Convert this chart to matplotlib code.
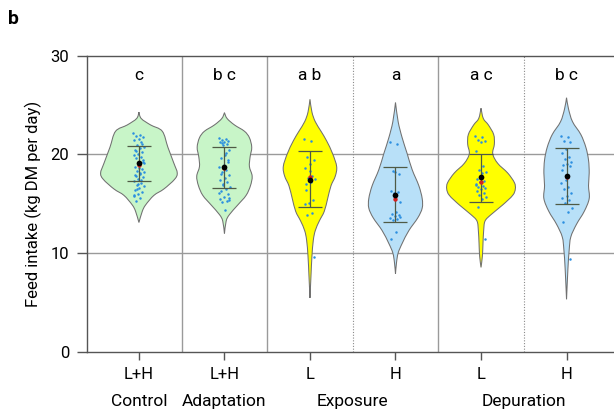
import matplotlib
matplotlib.use("Agg")
import matplotlib.pyplot as plt
from matplotlib.path import Path
from matplotlib.patches import PathPatch
import numpy as np

plt.rcParams['font.family'] = ['Roboto', 'DejaVu Sans']

# ---- data ----
tick_labels = ["L+H", "L+H", "L", "H", "L", "H"]
group_labels = ["Control", "Adaptation", "Exposure", "Depuration"]
group_label_pos = [0, 1, 2.5, 4.5]
letters = ["c", "b c", "a b", "a", "a c", "b c"]
fill_colors = ["#c8f5c8", "#c8f5c8", "#ffff00", "#b8e0f8", "#ffff00", "#b8e0f8"]

# violin density profiles (y level, half width)
prof_y = [
    [24.28, 23.63, 22.98, 22.34, 20.71, 19.09, 18.11, 17.47, 16.49, 15.84, 14.87, 14.22, 13.09],
    [24.22, 23.63, 22.98, 22.34, 21.68, 20.71, 19.74, 18.76, 17.79, 16.82, 15.84, 14.87, 13.89, 13.24, 11.95],
    [25.58, 24.28, 23.31, 22.34, 21.36, 20.06, 18.76, 17.79, 16.82, 15.52, 14.22, 13.24, 12.27, 11.29, 9.68, 7.73, 5.45],
    [25.26, 23.31, 21.68, 20.06, 18.44, 16.82, 15.52, 14.55, 13.57, 12.27, 10.97, 10.0, 9.03, 7.89],
    [24.67, 23.63, 22.98, 22.01, 21.03, 20.06, 19.09, 18.11, 17.14, 16.49, 15.84, 14.87, 13.89, 13.24, 12.27, 10.97, 9.68, 8.54],
    [25.74, 24.61, 23.31, 22.01, 20.71, 19.42, 18.11, 16.82, 15.52, 14.22, 12.92, 11.63, 10.32, 8.37, 5.30],
]
prof_w = [
    [0.0, 0.027, 0.136, 0.273, 0.339, 0.409, 0.448, 0.417, 0.292, 0.175, 0.078, 0.039, 0.0],
    [0.0, 0.031, 0.117, 0.234, 0.292, 0.319, 0.300, 0.292, 0.324, 0.304, 0.253, 0.156, 0.058, 0.020, 0.0],
    [0.0, 0.023, 0.062, 0.129, 0.195, 0.265, 0.312, 0.296, 0.246, 0.207, 0.167, 0.109, 0.062, 0.039, 0.023, 0.012, 0.0],
    [0.0, 0.031, 0.078, 0.137, 0.195, 0.273, 0.312, 0.312, 0.261, 0.156, 0.078, 0.031, 0.012, 0.0],
    [0.0, 0.027, 0.086, 0.148, 0.156, 0.137, 0.195, 0.312, 0.390, 0.401, 0.370, 0.253, 0.117, 0.047, 0.031, 0.023, 0.016, 0.0],
    [0.0, 0.023, 0.070, 0.167, 0.226, 0.257, 0.265, 0.257, 0.265, 0.207, 0.117, 0.050, 0.031, 0.016, 0.0],
]

# individual observations
pts_control = [22.2, 22.0, 21.9, 21.8, 21.6, 21.5, 21.2, 20.9, 20.7, 20.6, 20.4, 20.2, 20.0, 19.9,
               19.7, 19.6, 19.4, 18.9, 18.7, 18.5, 18.3, 18.2, 18.0, 17.8, 17.7, 17.5, 17.3, 17.1,
               16.9, 16.8, 16.6, 16.4, 16.2, 16.0, 15.8, 15.6, 15.3, 19.2, 18.6, 17.9, 17.4, 16.5,
               19.1, 18.1, 20.3, 21.0, 17.0, 15.9]
pts_adapt = [21.7, 21.6, 21.5, 21.4, 21.3, 21.2, 21.0, 20.9, 20.4, 19.9, 19.6, 19.2, 18.9, 18.7,
             18.4, 18.2, 17.9, 17.6, 17.4, 17.2, 16.9, 16.7, 16.5, 16.3, 16.0, 15.7, 15.5, 15.3,
             15.2, 15.6, 14.4, 18.0, 19.4, 17.0, 16.1, 20.1, 21.1, 15.4]
pts_exp_l = [21.6, 21.4, 19.7, 19.4, 19.0, 18.6, 17.8, 17.6, 17.5, 17.2, 17.0, 15.4, 15.1, 15.0,
             14.1, 13.9, 9.6, 18.3, 16.4]
pts_exp_h = [21.2, 21.0, 18.3, 18.0, 18.2, 16.3, 16.2, 16.1, 15.2, 14.2, 14.0, 13.9, 13.7, 13.5,
             13.4, 13.3, 13.6, 12.1, 11.4]
pts_dep_l = [21.9, 21.8, 21.5, 21.4, 21.3, 20.3, 18.8, 18.4, 18.2, 18.1, 17.5, 17.3, 17.2, 17.0,
             16.8, 16.7, 16.6, 16.5, 16.3, 16.1, 15.9, 15.7, 15.5, 14.7, 11.4, 17.6, 16.9]
pts_dep_h = [21.9, 21.8, 21.4, 21.2, 20.5, 20.1, 19.7, 19.5, 19.2, 19.0, 18.9, 18.8, 17.8, 17.1,
             16.7, 16.5, 16.1, 15.8, 15.6, 15.4, 15.1, 14.6, 14.2, 13.1, 9.4, 17.4, 18.4]
points = [pts_control, pts_adapt, pts_exp_l, pts_exp_h, pts_dep_l, pts_dep_h]

means = [19.08, 18.67, 17.40, 15.91, 17.69, 17.79]
medians = [18.90, 18.60, 17.72, 15.48, 17.23, 17.70]
sd_low = [17.30, 16.55, 14.64, 13.12, 15.19, 14.94]
sd_high = [20.88, 20.71, 20.29, 18.70, 20.06, 20.64]


def smooth_side(xs, ys):
    """Bezier (Catmull-Rom) path pieces through the outline vertices."""
    P = np.column_stack([xs, ys])
    n = len(P)
    verts, codes = [], []
    for k in range(n - 1):
        p0 = P[k - 1] if k > 0 else P[k]
        p1, p2 = P[k], P[k + 1]
        p3 = P[k + 2] if k + 2 < n else P[k + 1]
        c1 = p1 + (p2 - p0) / 6.0
        c2 = p2 - (p3 - p1) / 6.0
        verts += [c1, c2, p2]
        codes += [Path.CURVE4] * 3
    return verts, codes


# ---- figure ----
fig = plt.figure(figsize=(6.14, 4.13), dpi=100)
ax = fig.add_axes([0.142, 0.1485, 0.858, 0.7167])
ax.set_xlim(-0.605, 5.555)
ax.set_ylim(0, 30)

for yv in [10, 20]:
    ax.axhline(yv, color="#9a9a9a", lw=1.0, zorder=0)
for xv in [0.5, 1.5, 3.5]:
    ax.axvline(xv, color="#9a9a9a", lw=1.0, zorder=0)
for xv in [2.5, 4.5]:
    ax.axvline(xv, color="#8a8a8a", lw=0.8, ls=(0, (1, 1.5)), zorder=0)

for i in range(6):
    yy = np.array(prof_y[i])
    ww = np.array(prof_w[i])
    v1, c1 = smooth_side(i + ww, yy)
    v2, c2 = smooth_side((i - ww)[::-1], yy[::-1])
    verts = [(i + ww[0], yy[0])] + v1 + v2 + [(i, yy[0])]
    codes = [Path.MOVETO] + c1 + c2 + [Path.CLOSEPOLY]
    patch = PathPatch(Path(verts, codes), facecolor=fill_colors[i],
                      edgecolor="#707070", lw=0.75, zorder=2)
    ax.add_patch(patch)
    pts = np.array(points[i])
    k = np.arange(len(pts))
    jit = 0.065 * (((k * 0.618034) % 1.0) * 2 - 1)
    ax.scatter(i + jit, pts, s=3.2, color="#2b8fe0", lw=0, zorder=3)
    ax.errorbar([i], [means[i]], yerr=[[means[i] - sd_low[i]], [sd_high[i] - means[i]]],
                fmt="none", ecolor="#4f5a45", elinewidth=0.9, capsize=8.5, capthick=0.9, zorder=4)
    ax.scatter([i], [medians[i]], s=10, color="#d42020", zorder=5, lw=0)
    ax.scatter([i], [means[i]], s=17, color="black", zorder=6, lw=0)
    ax.text(i, 28.0, letters[i], ha="center", va="center", fontsize=12.5)

ax.set_yticks([0, 10, 20, 30])
ax.set_xticks(range(6))
ax.set_xticklabels(tick_labels)
ax.tick_params(axis="both", labelsize=12, color="#555555", length=6, width=1)
ax.tick_params(axis="y", length=7, pad=6)
ax.tick_params(axis="x", pad=5)
ax.set_ylabel("Feed intake (kg DM per day)", fontsize=12, labelpad=6)

for s in ["left", "bottom", "top"]:
    ax.spines[s].set_color("#555555")
    ax.spines[s].set_linewidth(1.0)
ax.spines["right"].set_visible(False)

for lab, pos in zip(group_labels, group_label_pos):
    ax.text(pos, -5.1, lab, ha="center", va="center", fontsize=12.5)

fig.text(0.013, 0.955, "b", fontsize=14, fontweight="bold", ha="left", va="center")

fig.savefig("out.png", dpi=100)
